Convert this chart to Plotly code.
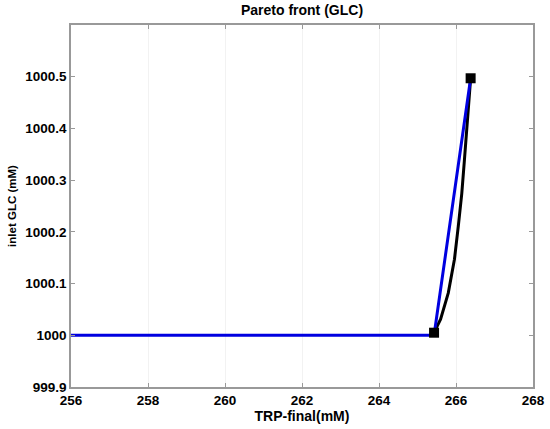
"""Pareto front (GLC): inlet glucose vs final TRP, redrawn with Plotly."""

import plotly.graph_objects as go

# blue: straight front through the two extreme points
front_x = [256.0, 265.43, 266.38]
front_y = [1000.0, 1000.0, 1000.497]

# black: curved front between the same points
curve_x = [265.43, 265.60, 265.80, 265.96, 266.06, 266.15, 266.22, 266.28, 266.34, 266.38]
curve_y = [1000.005, 1000.031, 1000.082, 1000.147, 1000.211, 1000.274, 1000.340, 1000.404, 1000.469, 1000.497]

# square markers on the extreme points
end_x = [265.43, 266.38]
end_y = [1000.005, 1000.497]

x_ticks = [256, 258, 260, 262, 264, 266, 268]
y_ticks = [999.9, 1000.0, 1000.1, 1000.2, 1000.3, 1000.4, 1000.5]
y_labels = ["999.9", "1000", "1000.1", "1000.2", "1000.3", "1000.4", "1000.5"]

FONT = "Liberation Sans, Arial, sans-serif"

fig = go.Figure()
fig.add_trace(go.Scatter(x=curve_x, y=curve_y, mode="lines",
                         line=dict(color="black", width=3)))
fig.add_trace(go.Scatter(x=front_x, y=front_y, mode="lines",
                         line=dict(color="#0000e0", width=3)))
fig.add_trace(go.Scatter(x=end_x, y=end_y, mode="markers",
                         marker=dict(symbol="square", size=10, color="black")))

axis_common = dict(
    showline=True, linecolor="#999999", linewidth=1.5, mirror="ticks",
    ticks="inside", ticklen=4, tickcolor="#999999",
    zeroline=False, automargin=False,
    tickfont=dict(family=FONT, size=13.5, color="black", weight="bold"),
)

fig.update_layout(
    width=550, height=429,
    margin=dict(l=71, r=17, t=25, b=42),
    paper_bgcolor="white", plot_bgcolor="white",
    showlegend=False,
    title=dict(text="<b>Pareto front (GLC)</b>", x=0.5, xref="paper",
               xanchor="center", y=0.977, yanchor="middle",
               font=dict(family=FONT, size=14, color="black")),
    xaxis=dict(range=[256, 268], tickvals=x_ticks,
               showgrid=True, gridcolor="#f2f2f2", gridwidth=1,
               title=dict(text="<b>TRP-final(mM)</b>", standoff=2,
                          font=dict(family=FONT, size=14, color="black")),
               **axis_common),
    yaxis=dict(range=[999.9, 1000.6], tickvals=y_ticks, ticktext=y_labels,
               showgrid=False,
               title=dict(text="<b>inlet GLC (mM)</b>", standoff=6,
                          font=dict(family=FONT, size=11.5, color="black")),
               **axis_common),
)

# drop the browser's default 8px body margin so the figure fills the window
fig.write_html("out.html", config={"displayModeBar": False},
               post_script="document.body.style.margin = '0';")
